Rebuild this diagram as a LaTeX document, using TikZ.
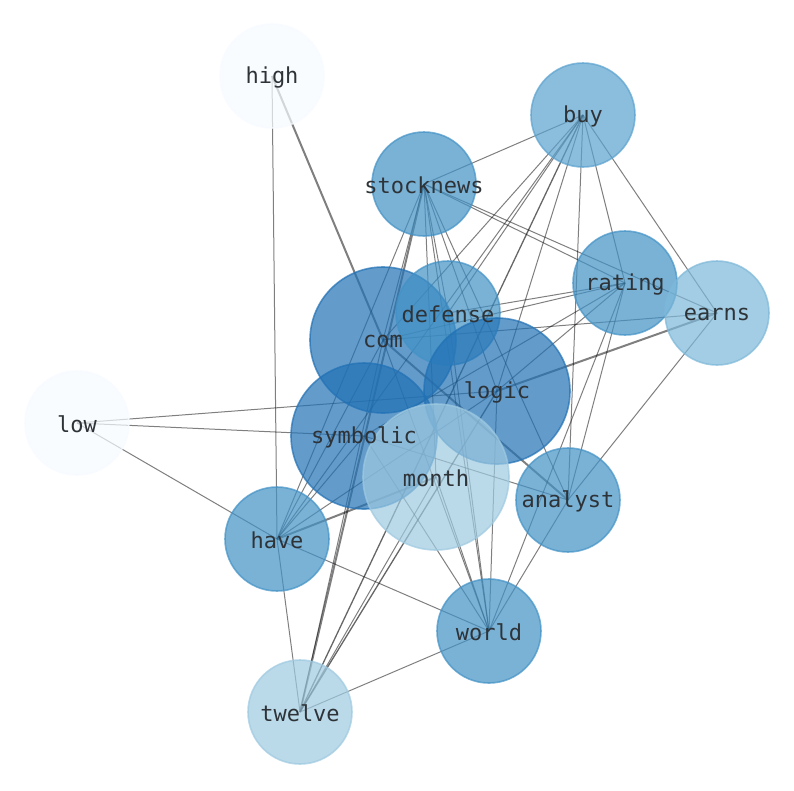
\documentclass[tikz,border=0pt]{standalone}
\usepackage{fontspec}
\setmonofont{DejaVu Sans Mono}
\usetikzlibrary{backgrounds}
\pgfdeclarelayer{edgelayer}
\pgfdeclarelayer{textlayer}
\pgfsetlayers{background,edgelayer,main,textlayer}
\definecolor{labelc}{HTML}{2E3338}
\definecolor{cdark}{HTML}{2171B5}
\definecolor{cmid}{HTML}{4292C6}
\definecolor{cbuy}{HTML}{5AA2CF}
\definecolor{cearns}{HTML}{7DB8D9}
\definecolor{clight}{HTML}{9ECAE1}
\definecolor{cpale}{HTML}{F7FBFF}
\begin{document}
\begin{tikzpicture}[x=1pt,y=-1pt,
  nd/.style={circle, inner sep=0pt, fill opacity=0.7, draw opacity=0.7, line width=1.6pt},
  smallnd/.style={nd, minimum size=104pt},
  bignd/.style={nd, minimum size=146pt},
  lbl/.style={inner sep=0pt, font=\ttfamily\fontsize{22}{24}\selectfont, text=labelc},
  ed/.style={draw=black, draw opacity=0.5, line width=1pt},
  edw/.style={draw=black, draw opacity=0.5, line width=2pt},
  edd/.style={draw=black, draw opacity=0.6, line width=1.3pt}]
\useasboundingbox (0,0) rectangle (794,790);
\begin{pgfonlayer}{background}
\fill[white] (0,0) rectangle (794,790);
\end{pgfonlayer}

% nodes
\node[smallnd, fill=cpale, draw=cpale] (high) at (272,76) {};
\node[smallnd, fill=cbuy, draw=cbuy] (buy) at (583,115) {};
\node[smallnd, fill=cmid, draw=cmid] (stocknews) at (424,184) {};
\node[smallnd, fill=cmid, draw=cmid] (rating) at (625,283) {};
\node[smallnd, fill=cearns, draw=cearns] (earns) at (717,313) {};
\node[bignd, fill=cdark, draw=cdark] (com) at (383,340) {};
\node[smallnd, fill=cmid, draw=cmid] (defense) at (448,313) {};
\node[bignd, fill=cdark, draw=cdark] (logic) at (497,391) {};
\node[smallnd, fill=cpale, draw=cpale] (low) at (77,423) {};
\node[bignd, fill=cdark, draw=cdark] (symbolic) at (364,436) {};
\node[bignd, fill=clight, draw=clight] (month) at (436,477) {};
\node[smallnd, fill=cmid, draw=cmid] (analyst) at (568,500) {};
\node[smallnd, fill=cmid, draw=cmid] (have) at (277,539) {};
\node[smallnd, fill=cmid, draw=cmid] (world) at (489,631) {};
\node[smallnd, fill=clight, draw=clight] (twelve) at (300,712) {};

\begin{pgfonlayer}{textlayer}
\foreach \n in {high,buy,stocknews,rating,earns,com,defense,logic,low,symbolic,month,analyst,have,world,twelve}
  \node[lbl] (t-\n) at ([yshift=-1.5pt]\n.center) {\n};
\end{pgfonlayer}

\begin{pgfonlayer}{edgelayer}
% high
\draw[ed] (high.center) -- (have.center);
\draw[edw] (high.center) -- (com.center);
% low
\draw[ed] (low.center) -- (logic.center);
\draw[ed] (low.center) -- (symbolic.center);
\draw[ed] (low.center) -- (have.center);
% buy
\draw[ed] (buy.center) -- (stocknews.center);
\draw[ed] (buy.center) -- (com.center);
\draw[ed] (buy.center) -- (defense.center);
\draw[ed] (buy.center) -- (have.center);
\draw[ed] (buy.center) -- (logic.center);
\draw[ed] (buy.center) -- (analyst.center);
\draw[ed] (buy.center) -- (rating.center);
\draw[ed] (buy.center) -- (earns.center);
\draw[edd] (buy.center) -- (twelve.center);
% stocknews
\draw[ed] (stocknews.center) -- (rating.center);
\draw[ed] (stocknews.center) -- (earns.center);
\draw[edw] (stocknews.center) -- (twelve.center);
\draw[ed] (stocknews.center) -- (com.center);
\draw[ed] (stocknews.center) -- (month.center);
\draw[ed] (stocknews.center) -- (world.center);
\draw[ed] (stocknews.center) -- (defense.center);
\draw[ed] (stocknews.center) -- (logic.center);
\draw[ed] (stocknews.center) -- (analyst.center);
\draw[ed] (stocknews.center) -- (have.center);
% rating
\draw[ed] (rating.center) -- (defense.center);
\draw[ed] (rating.center) -- (com.center);
\draw[ed] (rating.center) -- (symbolic.center);
\draw[ed] (rating.center) -- (logic.center);
\draw[ed] (rating.center) -- (analyst.center);
\draw[ed] (rating.center) -- (world.center);
% earns
\draw[ed] (earns.center) -- (com.center);
\draw[edw] (earns.center) -- (logic.center);
\draw[ed] (earns.center) -- (analyst.center);
% com
\draw[edw] (com.center) -- (analyst.center);
\draw[ed] (com.center) -- (twelve.center);
\draw[ed] (com.center) -- (world.center);
\draw[ed] (com.center) -- (have.center);
% symbolic
\draw[ed] (symbolic.center) -- (analyst.center);
\draw[ed] (symbolic.center) -- (world.center);
\draw[ed] (symbolic.center) -- (have.center);
% logic
\draw[ed] (logic.center) -- (world.center);
\draw[edd] (logic.center) -- (twelve.center);
\draw[ed] (logic.center) -- (have.center);
% month
\draw[edw] (month.center) -- (have.center);
\draw[ed] (month.center) -- (twelve.center);
\draw[ed] (month.center) -- (world.center);
% others
\draw[ed] (have.center) -- (twelve.center);
\draw[ed] (world.center) -- (twelve.center);
\draw[ed] (world.center) -- (have.center);
\draw[ed] (world.center) -- (analyst.center);
\draw[ed] (world.center) -- (defense.center);
\end{pgfonlayer}
\end{tikzpicture}
\end{document}
